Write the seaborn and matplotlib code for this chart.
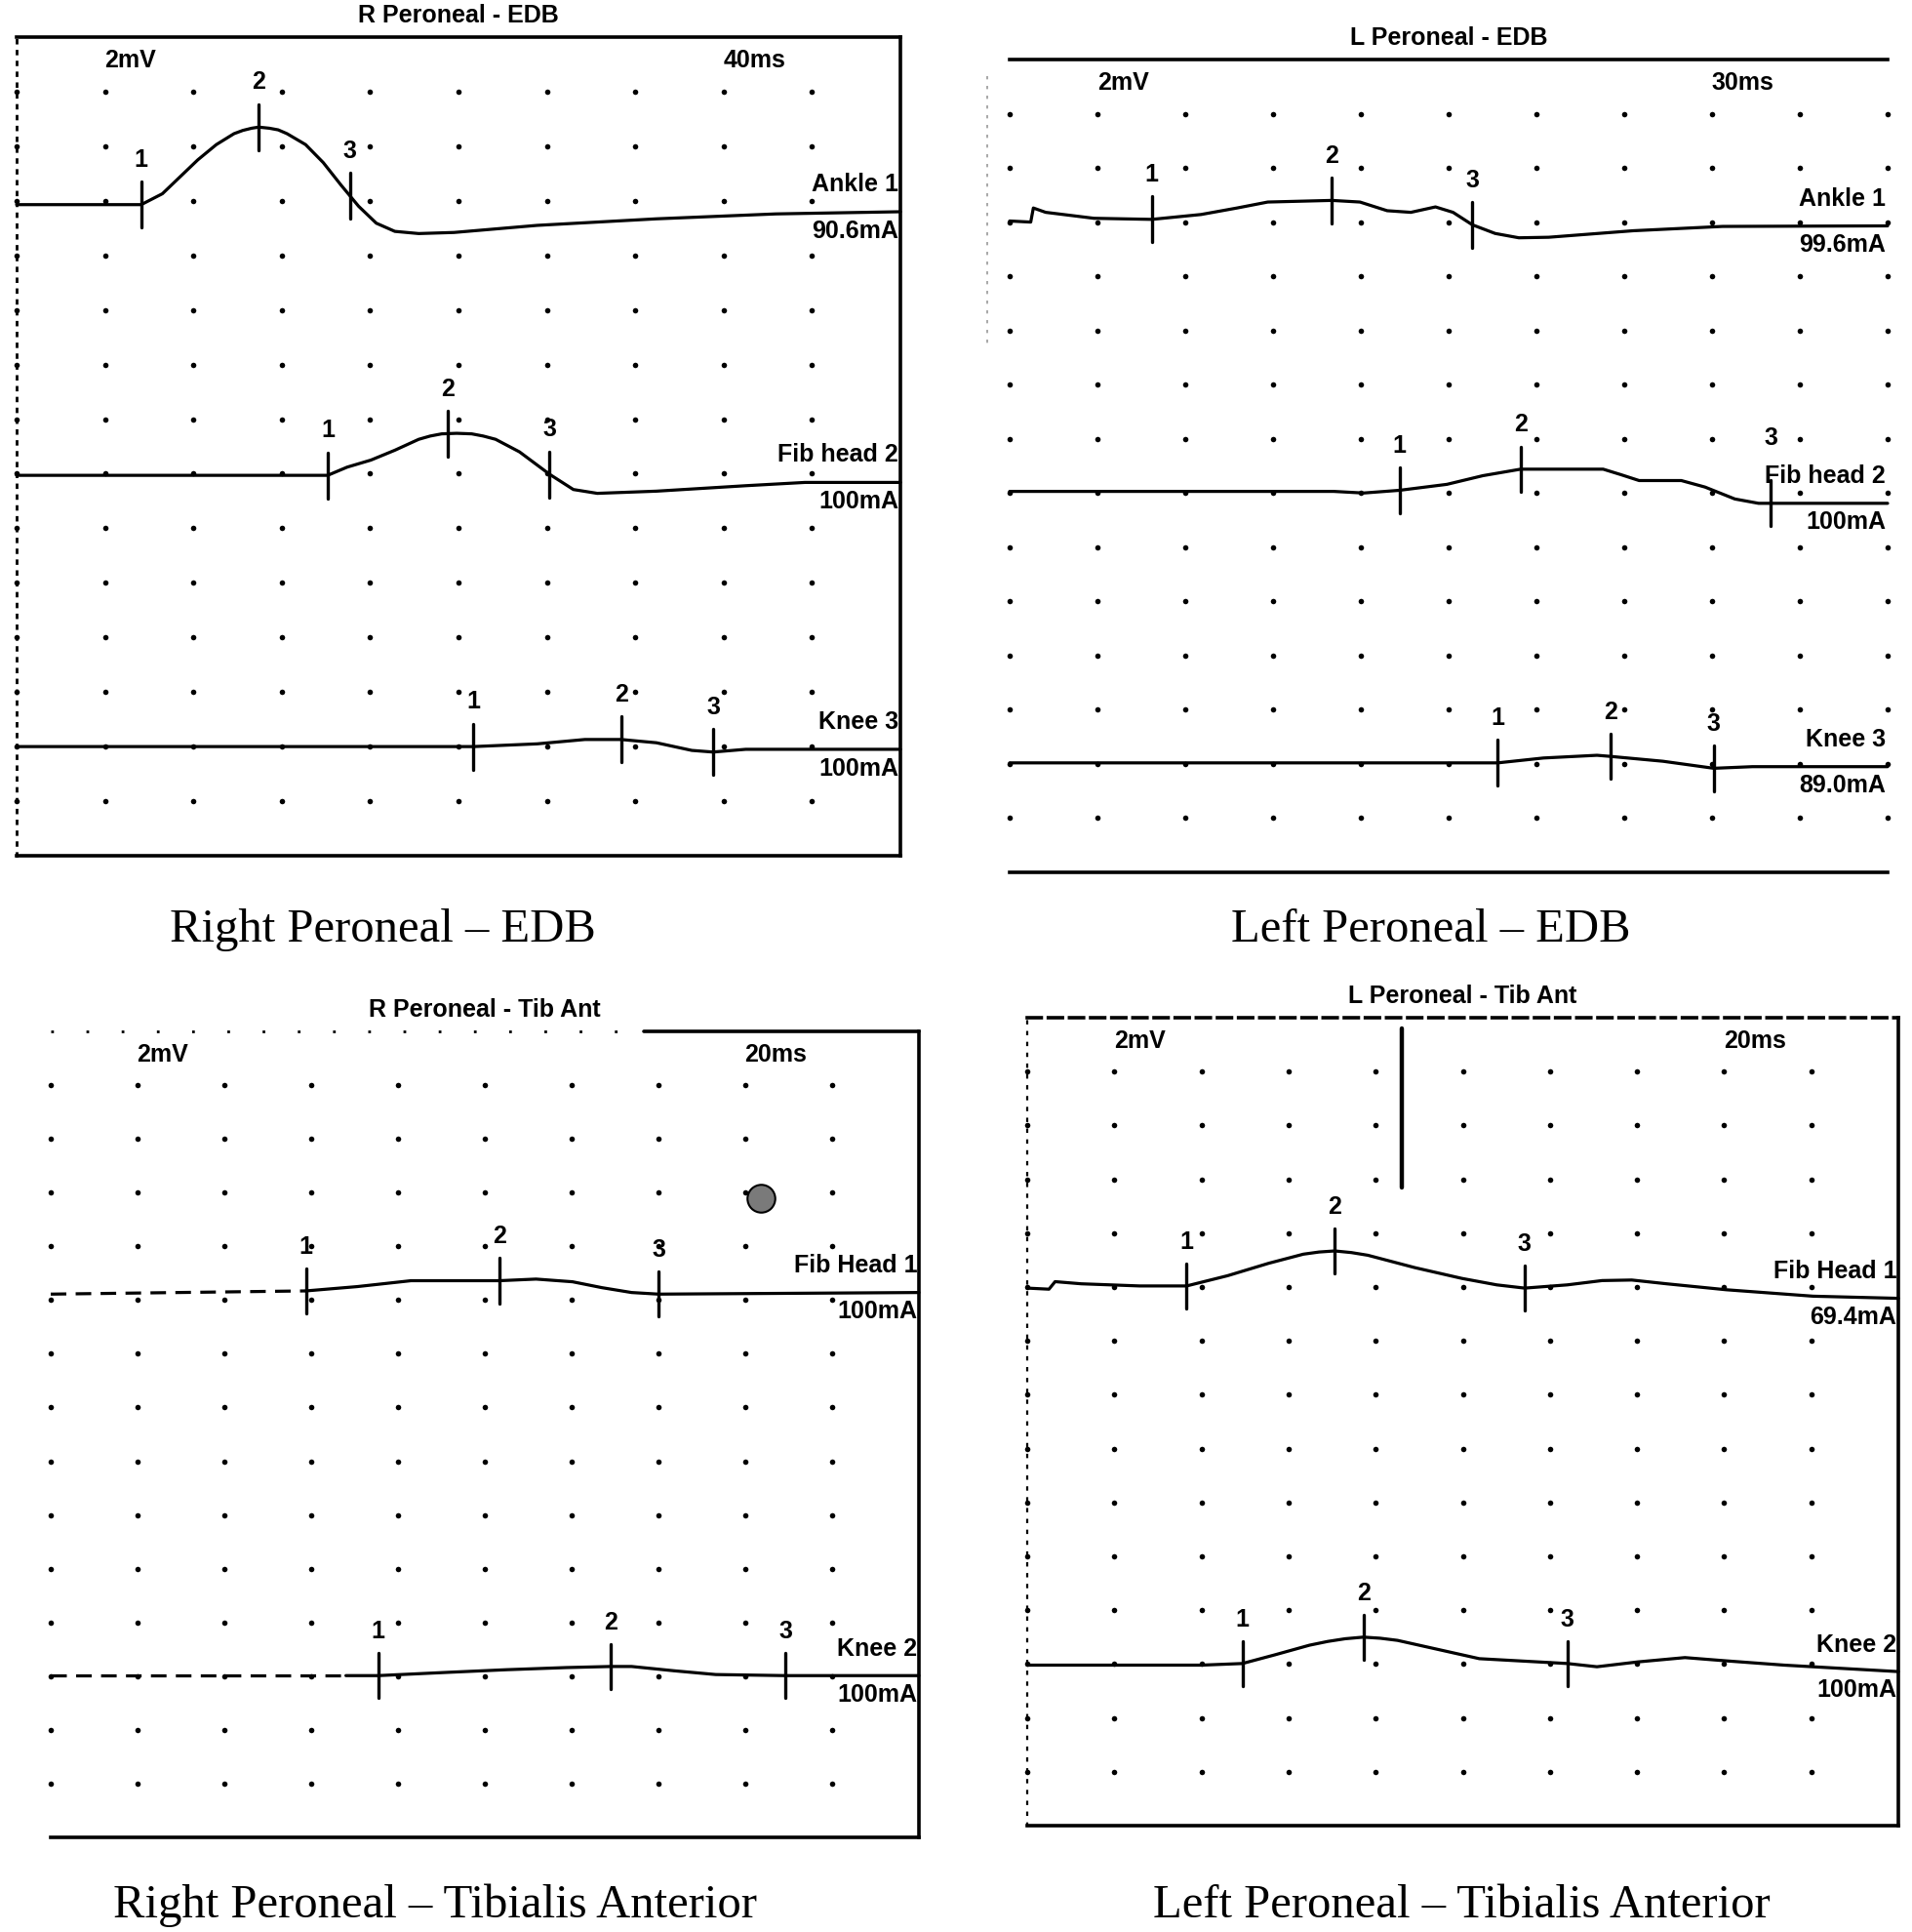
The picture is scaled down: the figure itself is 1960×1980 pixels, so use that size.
import numpy as np
import pandas as pd
import matplotlib
matplotlib.use("Agg")
import matplotlib.pyplot as plt
import seaborn as sns

sns.set_theme(style="white")
plt.rcParams['font.family'] = ['Liberation Sans', 'DejaVu Sans']

W, H = 1960, 1980

# ---- Right Peroneal - EDB (x in divisions, y in divisions from top) ----
P1_ANKLE_X = [0, 0.64, 1.41, 1.65, 1.85, 2.05, 2.26, 2.46, 2.56, 2.66, 2.74, 2.86, 2.96, 3.06, 3.27,
              3.47, 3.67, 3.87, 4.07, 4.28, 4.55, 4.95, 5.89, 7.24, 8.59, 10]
P1_ANKLE_Y = [3.07, 3.07, 3.07, 2.87, 2.56, 2.25, 1.97, 1.77, 1.71, 1.67, 1.65, 1.67, 1.70, 1.77, 1.97,
              2.30, 2.71, 3.10, 3.41, 3.56, 3.60, 3.58, 3.45, 3.33, 3.24, 3.20]
P1_FIB_X = [0, 3.52, 3.74, 4.01, 4.28, 4.55, 4.68, 4.81, 4.98, 5.15, 5.28, 5.42, 5.69, 6.03, 6.30,
            6.57, 7.24, 8.25, 8.92, 10]
P1_FIB_Y = [8.03, 8.03, 7.88, 7.75, 7.57, 7.37, 7.31, 7.27, 7.26, 7.27, 7.31, 7.37, 7.60, 8.01, 8.29,
            8.36, 8.32, 8.22, 8.16, 8.16]
P1_KNEE_X = [0, 5.17, 5.89, 6.43, 6.84, 7.24, 7.64, 7.88, 8.25, 10]
P1_KNEE_Y = [13.0, 13.0, 12.95, 12.87, 12.87, 12.93, 13.07, 13.1, 13.05, 13.05]

# ---- Left Peroneal - EDB ----
P2_ANKLE_X = [0, 0.24, 0.27, 0.41, 0.96, 1.62, 2.18, 2.59, 2.94, 3.67, 3.99, 4.30, 4.57, 4.85,
              5.05, 5.27, 5.53, 5.80, 6.14, 7.10, 8.12, 10]
P2_ANKLE_Y = [2.98, 3.0, 2.74, 2.82, 2.93, 2.95, 2.86, 2.74, 2.63, 2.60, 2.63, 2.79, 2.82, 2.72,
              2.82, 3.05, 3.21, 3.29, 3.28, 3.16, 3.08, 3.07]
P2_FIB_X = [0, 3.69, 4.03, 4.44, 4.98, 5.39, 5.82, 6.76, 6.96, 7.17, 7.65, 7.92, 8.26, 8.53, 10]
P2_FIB_Y = [7.97, 7.97, 8.0, 7.95, 7.84, 7.68, 7.56, 7.56, 7.66, 7.77, 7.77, 7.89, 8.11, 8.19, 8.19]
P2_KNEE_X = [0, 5.56, 6.08, 6.69, 6.84, 7.44, 8.02, 8.46, 10]
P2_KNEE_Y = [12.98, 12.98, 12.89, 12.84, 12.86, 12.95, 13.08, 13.05, 13.05]

# ---- Right Peroneal - Tibialis Anterior ----
P3_FIB_X = [0, 2.94, 3.53, 4.15, 5.17, 5.59, 6.01, 6.35, 6.69, 7.0, 10]
P3_FIB_Y = [4.89, 4.83, 4.75, 4.64, 4.64, 4.61, 4.66, 4.77, 4.86, 4.89, 4.86]
P3_KNEE_X = [0, 3.4, 3.77, 4.56, 5.25, 5.94, 6.45, 6.69, 7.18, 7.66, 8.46, 10]
P3_KNEE_Y = [11.99, 11.99, 11.99, 11.93, 11.88, 11.84, 11.82, 11.82, 11.90, 11.97, 11.99, 11.99]

# ---- Left Peroneal - Tibialis Anterior ----
P4_FIB_X = [0, 0.25, 0.32, 0.62, 1.29, 1.83, 2.30, 2.77, 3.17, 3.35, 3.53, 3.72, 3.91, 4.45, 4.99,
            5.39, 5.71, 6.20, 6.60, 6.94, 7.34, 8.02, 9.02, 10]
P4_FIB_Y = [5.02, 5.04, 4.90, 4.94, 4.98, 4.98, 4.79, 4.56, 4.39, 4.35, 4.33, 4.36, 4.41, 4.64, 4.84,
            4.96, 5.02, 4.96, 4.88, 4.87, 4.94, 5.05, 5.17, 5.21]
P4_KNEE_X = [0, 2.0, 2.47, 2.84, 3.24, 3.45, 3.65, 3.86, 4.05, 4.25, 4.72, 5.19, 6.20, 6.54, 7.01,
             7.55, 8.02, 8.69, 10]
P4_KNEE_Y = [12.02, 12.02, 11.99, 11.83, 11.65, 11.58, 11.53, 11.50, 11.52, 11.56, 11.73, 11.90,
             11.99, 12.05, 11.96, 11.88, 11.94, 12.02, 12.14]

# marker (1, 2, 3) positions in divisions
P1_MARKS = [[1.41, 2.74, 3.77], [3.52, 4.88, 6.03], [5.17, 6.84, 7.88]]
P2_MARKS = [[1.62, 3.67, 5.27], [4.44, 5.82, 8.67], [5.56, 6.84, 8.02]]
P3_MARKS = [[2.94, 5.17, 7.0], [3.77, 6.45, 8.46]]
P4_MARKS = [[1.83, 3.53, 5.71], [2.47, 3.86, 6.20]]

PANEL_TITLES = ["R Peroneal - EDB", "L Peroneal - EDB", "R Peroneal - Tib Ant", "L Peroneal - Tib Ant"]
SWEEPS = ["40ms", "30ms", "20ms", "20ms"]
CAPTIONS = ["Right Peroneal \u2013 EDB", "Left Peroneal \u2013 EDB",
            "Right Peroneal \u2013 Tibialis Anterior", "Left Peroneal \u2013 Tibialis Anterior"]
P1_LABELS = [("Ankle 1", "90.6mA"), ("Fib head 2", "100mA"), ("Knee 3", "100mA")]
P2_LABELS = [("Ankle 1", "99.6mA"), ("Fib head 2", "100mA"), ("Knee 3", "89.0mA")]
P3_LABELS = [("Fib Head 1", "100mA"), ("Knee 2", "100mA")]
P4_LABELS = [("Fib Head 1", "69.4mA"), ("Knee 2", "100mA")]

# box edges in pixels (left, right, top, bottom)
BOXES = [(17, 923, 38, 877), (1035, 1935, 61, 894), (52, 942, 1057, 1883), (1053, 1946, 1043, 1871)]
CAPTION_POS = [(392, 965), (1467, 965), (446, 1965), (1498, 1965)]

TXT = dict(fontsize=18, fontweight='bold', color='black')


def draw_dots(ax, cols, rows):
    grid = pd.DataFrame([(i, j) for i in cols for j in rows], columns=['gx', 'gy'])
    sns.scatterplot(data=grid, x='gx', y='gy', ax=ax, s=16, color='black', linewidth=0,
                    legend=False, clip_on=False)


def draw_trace(ax, xs, ys, marks, labels, dash_until=None, label_lift=None):
    df = pd.DataFrame({'t': xs, 'v': ys})
    solid = df if dash_until is None else df[df.t >= dash_until]
    sns.lineplot(data=solid, x='t', y='v', ax=ax, color='black', lw=2.3, sort=False,
                 estimator=None, clip_on=False, solid_joinstyle='round')
    if dash_until is not None:
        dashed = df[df.t <= dash_until]
        sns.lineplot(data=dashed, x='t', y='v', ax=ax, color='black', lw=2.3, sort=False,
                     estimator=None, linestyle=(0, (5, 3)))
    for k, mx in enumerate(marks):
        my = np.interp(mx, xs, ys)
        ax.plot([mx, mx], [my - 0.42, my + 0.42], color='black', lw=2.4)
        lift = 0.82 if label_lift is None else label_lift[k]
        ax.text(mx, my - lift, str(k + 1), ha='center', va='center', **TXT)
    base = ys[-1]
    ax.text(9.98, base - 0.5, labels[0], ha='right', va='center', **TXT)
    ax.text(9.98, base + 0.35, labels[1], ha='right', va='center', **TXT)


fig = plt.figure(figsize=(W / 100, H / 100), dpi=100)
axes = []
for (L, R, T, B) in BOXES:
    ax = fig.add_axes([L / W, 1 - B / H, (R - L) / W, (B - T) / H])
    axes.append(ax)

traces = [
    [(P1_ANKLE_X, P1_ANKLE_Y), (P1_FIB_X, P1_FIB_Y), (P1_KNEE_X, P1_KNEE_Y)],
    [(P2_ANKLE_X, P2_ANKLE_Y), (P2_FIB_X, P2_FIB_Y), (P2_KNEE_X, P2_KNEE_Y)],
    [(P3_FIB_X, P3_FIB_Y), (P3_KNEE_X, P3_KNEE_Y)],
    [(P4_FIB_X, P4_FIB_Y), (P4_KNEE_X, P4_KNEE_Y)],
]
marks = [P1_MARKS, P2_MARKS, P3_MARKS, P4_MARKS]
labels = [P1_LABELS, P2_LABELS, P3_LABELS, P4_LABELS]
dot_cols = [range(0, 10), range(0, 11), range(0, 10), range(0, 10)]
dashes = [[None, None, None], [None, None, None], [2.94, 3.4], [None, None]]
lifts = [[None, None, None], [None, [0.82, 0.82, 1.2], None], [None, None], [None, None]]

for p, ax in enumerate(axes):
    draw_dots(ax, dot_cols[p], range(1, 15))
    for t, (xs, ys) in enumerate(traces[p]):
        draw_trace(ax, xs, ys, marks[p][t], labels[p][t], dash_until=dashes[p][t],
                   label_lift=lifts[p][t])
    ax.text(1.29, 0.43, "2mV", ha='center', va='center', **TXT)
    ax.text(8.35, 0.43, SWEEPS[p], ha='center', va='center', **TXT)
    ax.text(5.0, -0.4, PANEL_TITLES[p], ha='center', va='center', clip_on=False, **TXT)
    ax.set_xlim(0, 10)
    ax.set_ylim(15, 0)
    ax.set_xticks([])
    ax.set_yticks([])
    ax.set_xlabel('')
    ax.set_ylabel('')
    ax.set_facecolor('none')
    for sp in ax.spines.values():
        sp.set_color('black')
        sp.set_linewidth(2.6)

# spine styles per panel
axes[0].spines['left'].set_linestyle((0, (1, 3)))
axes[0].spines['left'].set_linewidth(2.0)
axes[1].spines['left'].set_visible(False)
axes[1].spines['right'].set_visible(False)
axes[1].plot([-0.26, -0.26], [0.3, 5.3], color='#999999', lw=1.2, ls=(0, (2, 4)), clip_on=False)
axes[2].spines['left'].set_visible(False)
axes[2].spines['top'].set_visible(False)
axes[2].plot([0, 6.83], [0, 0], color='black', lw=2.0, ls=(0, (1, 12)), clip_on=False)
axes[2].plot([6.83, 10], [0, 0], color='black', lw=2.6, clip_on=False)
axes[2].scatter([8.18], [3.11], s=420, color='#7a7a7a', edgecolor='black', linewidth=1.5, zorder=5)
axes[3].spines['left'].set_linestyle((0, (1, 4)))
axes[3].spines['left'].set_linewidth(1.6)
axes[3].spines['top'].set_linestyle((0, (4, 2)))
axes[3].spines['bottom'].set_linestyle((0, (6, 1)))
axes[3].plot([4.30, 4.30], [0.2, 3.15], color='black', lw=3.2)

for p, (cx, cy) in enumerate(CAPTION_POS):
    fig.text(cx / W, 1 - cy / H, CAPTIONS[p], ha='center', va='baseline',
             fontsize=35, family=['Liberation Serif', 'DejaVu Serif'], color='black')

fig.savefig("out.png", dpi=100, facecolor='white')
